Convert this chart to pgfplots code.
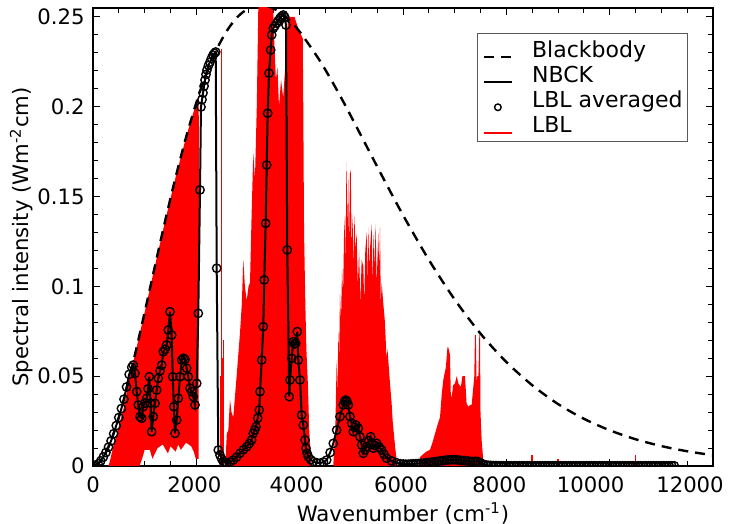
\documentclass[border=0pt]{standalone}
\usepackage{fontspec}
\setmainfont{DejaVu Sans}
\usepackage{pgfplots}
\pgfplotsset{compat=1.18}
\begin{document}
\fontsize{10.6}{12.5}\selectfont
\begin{tikzpicture}
\begin{axis}[
  scale only axis, width=310pt, height=229pt,
  xmin=0, xmax=12000, ymin=0, ymax=0.255,
  scaled x ticks=false, scaled y ticks=false,
  xtick={0,2000,4000,6000,8000,10000,12000},
  xticklabels={0,{\kern-1pt 2000\kern1pt},{\kern-1.5pt 4000\kern1.5pt},{\kern-1pt 6000\kern1pt},{\kern-3.5pt 8000\kern3.5pt},{\kern-9.5pt 10000\kern9.5pt},{\kern-11.5pt 12000\kern11.5pt}},
  ytick={0,0.05,0.1,0.15,0.2,0.25},
  yticklabels={0,0.05,0.1,0.15,0.2,0.25},
  minor x tick num=3, minor y tick num=4,
  tick align=inside, xtick pos=both, ytick pos=both,
  major tick length=3.5pt, minor tick length=2.5pt,
  every tick/.style={black, line width=0.5pt},
  axis line style={line width=0.8pt},
  xticklabel style={yshift=-1.5pt},
  yticklabel style={xshift=-0.5pt},
  clip marker paths=true,
  xlabel={Wavenumber (cm\textsuperscript{-1})},
  ylabel={Spectral intensity (Wm\textsuperscript{-2}cm)},
  xlabel style={at={(axis description cs:0.5,0)}, anchor=north, yshift=-14.7pt},
  ylabel style={at={(axis description cs:-0.0845,0.5)}, anchor=south},
  legend style={at={(0.96,0.945)}, anchor=north east, draw=black!65, line width=0.5pt,
    inner xsep=2.5pt, inner ysep=3.1pt, row sep=2.3pt,
    nodes={inner sep=0pt, text height=8.7pt, text depth=1.5pt, anchor=base west},
    /tikz/every odd column/.append style={column sep=9.5pt},
    font=\fontsize{11}{13}\selectfont},
  legend cell align=left,
  legend image code/.code={\draw[mark repeat=2,mark phase=2,#1] plot coordinates {(0pt,0pt)(7pt,0pt)(14pt,0pt)};},
]
% ---------------- LBL (red) ----------------
\addplot[fill=red, draw=none, forget plot] coordinates {
(300,0) (330,0.003) (400,0.012) (500,0.022) (600,0.033) (700,0.048) (780,0.058) (800,0.0605)
(1000,0.0856) (1200,0.1115) (1400,0.1369) (1600,0.1609) (1800,0.1829) (2000,0.2023) (2040,0.206)
(2050,0.19) (2045,0.004) (1990,0.004) (1950,0.008) (1900,0.011) (1800,0.013) (1700,0.009)
(1650,0.012) (1600,0.008) (1500,0.011) (1450,0.007) (1350,0.012) (1250,0.010) (1150,0.004)
(1100,0.009) (1000,0.009) (950,0.004) (900,0) (330,0)
} \closedcycle;
\addplot[fill=red, draw=none, forget plot] coordinates {
(2560,0) (2590,0.018) (2620,0.020) (2651,0.037) (2680,0.030) (2715,0.027) (2780,0.050)
(2845,0.074) (2880,0.090) (2909,0.115) (2940,0.100) (2975,0.092) (3010,0.100) (3039,0.102)
(3070,0.140) (3102,0.174) (3135,0.160) (3170,0.200) (3199,0.254) (3232,0.262) (3480,0.262)
(3510,0.235) (3540,0.215) (3570,0.222) (3600,0.200) (3640,0.215) (3680,0.205) (3720,0.222)
(3750,0.240) (3780,0.250) (3900,0.250) (3980,0.243) (4060,0.238) (4070,0.200) (4085,0.130)
(4110,0.090) (4130,0.065) (4160,0.045) (4185,0.020) (4210,0.008) (4230,0)
} \closedcycle;
\addplot[fill=red, draw=none, forget plot] coordinates {
(4650,0) (4690,0.020) (4716,0.059) (4730,0.040) (4750,0.075) (4765,0.060) (4780,0.096)
(4800,0.080) (4820,0.110) (4840,0.095) (4860,0.130) (4877,0.139) (4890,0.110) (4900,0.155)
(4910,0.169) (4920,0.130) (4940,0.160) (4955,0.120) (4975,0.165) (4990,0.163) (5006,0.120)
(5025,0.140) (5040,0.110) (5060,0.140) (5080,0.120) (5103,0.130) (5125,0.100) (5150,0.120)
(5175,0.090) (5200,0.115) (5232,0.111) (5250,0.090) (5270,0.120) (5300,0.130) (5315,0.100)
(5329,0.133) (5345,0.110) (5360,0.120) (5393,0.135) (5410,0.100) (5430,0.130) (5450,0.110)
(5470,0.135) (5490,0.100) (5520,0.130) (5540,0.110) (5555,0.133) (5570,0.090) (5587,0.102)
(5620,0.090) (5651,0.080) (5680,0.060) (5700,0.065) (5748,0.046) (5780,0.035) (5800,0.025)
(5850,0.010) (5878,0.003) (5900,0)
} \closedcycle;
\addplot[fill=red, draw=none, forget plot] coordinates {
(6300,0) (6329,0.005) (6450,0.008) (6522,0.009) (6580,0.014) (6619,0.018) (6680,0.024)
(6716,0.027) (6750,0.040) (6780,0.048) (6830,0.055) (6860,0.066) (6877,0.066) (6909,0.062)
(6925,0.040) (6942,0.038) (6970,0.045) (7006,0.046) (7040,0.050) (7071,0.046) (7120,0.044)
(7150,0.050) (7200,0.050) (7230,0.035) (7264,0.033) (7300,0.034) (7329,0.034) (7380,0.050)
(7393,0.073) (7410,0.073) (7425,0.045) (7438,0.050) (7460,0.050) (7477,0.073) (7490,0.073)
(7500,0.030) (7522,0.0145) (7554,0.003) (7570,0)
} \closedcycle;
\addplot[red, ycomb, line width=0.75pt, forget plot] coordinates {
(2470,0.050) (2490,0.232) (2505,0.060) (2530,0.070)
(8250,0.003) (8500,0.006) (9000,0.004) (10500,0.006)
};
% ---------------- Blackbody ----------------
\addplot[black, line width=1.2pt, dash pattern=on 5pt off 3.5pt, smooth, forget plot] table {
0 0
100 0.00131
200 0.0050
300 0.01075
400 0.01826
500 0.02723
600 0.0374
800 0.0605
1000 0.0856
1200 0.1115
1400 0.1369
1600 0.1609
1800 0.1829
2000 0.2023
2200 0.2188
2400 0.2323
2600 0.2427
2800 0.2501
3000 0.2546
3200 0.2564
3400 0.2558
3600 0.2530
3800 0.2482
4000 0.2418
4400 0.2252
4800 0.2052
5200 0.1833
5600 0.1612
6000 0.1397
6500 0.1148
7000 0.0927
7500 0.0737
8000 0.0579
8500 0.0450
9000 0.0345
9500 0.0263
10000 0.0199
10500 0.0149
11000 0.0111
11500 0.0082
12000 0.0060
};
% ---------------- NBCK + LBL averaged ----------------
\addplot[black, line width=1pt, mark=o, mark size=2.1pt, mark options={line width=0.7pt, solid}, forget plot] coordinates {
(0,0) (50,0.0003) (100,0.0012) (150,0.0028) (200,0.0050) (250,0.0075) (300,0.0105) (350,0.0140)
(400,0.0180) (450,0.0225) (500,0.0270) (550,0.0320) (600,0.0372) (650,0.0440) (700,0.0510)
(750,0.0550) (780,0.0562) (813,0.0516) (846,0.0414) (877,0.0340) (910,0.0275) (943,0.0266)
(973,0.0330) (1006,0.0350) (1039,0.0377) (1065,0.0430) (1090,0.0497) (1113,0.0350) (1136,0.0191)
(1167,0.0275) (1200,0.0349) (1233,0.0423) (1264,0.0488) (1297,0.0530) (1330,0.0562) (1361,0.0636)
(1394,0.0650) (1426,0.0674) (1457,0.0757) (1490,0.0859) (1523,0.0729) (1543,0.0497) (1565,0.0330)
(1587,0.0182) (1620,0.0256) (1651,0.0377) (1684,0.0497) (1717,0.0590) (1750,0.0600) (1781,0.0594)
(1813,0.0544) (1844,0.0497) (1877,0.0433) (1910,0.0414) (1941,0.0386) (1974,0.0340) (2007,0.0460)
(2038,0.0850) (2071,0.1537) (2090,0.1999) (2110,0.2040) (2129,0.2077) (2150,0.2115) (2168,0.2149)
(2187,0.2180) (2206,0.2205) (2235,0.2230) (2264,0.2249) (2293,0.2270) (2322,0.2288) (2350,0.2298)
(2375,0.2305) (2394,0.1101) (2425,0.0089) (2458,0.0061) (2490,0.0040) (2522,0.0024) (2555,0.0018)
(2588,0.0015) (2650,0.0022) (2715,0.0033) (2780,0.0050) (2845,0.0071) (2910,0.0090) (2975,0.0107)
(3025,0.0125) (3071,0.0145) (3102,0.0182) (3130,0.0200) (3155,0.0219) (3188,0.0266) (3218,0.0312)
(3232,0.0414) (3265,0.0590) (3296,0.0776) (3315,0.1036) (3342,0.1351) (3362,0.1676) (3381,0.1964)
(3406,0.2187) (3439,0.2316) (3459,0.2400) (3490,0.2437) (3520,0.2450) (3555,0.2465) (3585,0.2480)
(3619,0.2493) (3650,0.2503) (3683,0.2511) (3710,0.2500) (3735,0.2455) (3760,0.1203) (3799,0.0386)
(3813,0.0479) (3846,0.0600) (3877,0.0692) (3900,0.0680) (3923,0.0683) (3954,0.0748) (3973,0.0590)
(4006,0.0479) (4039,0.0284) (4070,0.0228) (4103,0.0145) (4122,0.0099) (4145,0.0070) (4167,0.0052)
(4215,0.0035) (4264,0.0024) (4330,0.0018) (4393,0.0015) (4460,0.0022) (4523,0.0033) (4590,0.0075)
(4651,0.0126) (4716,0.0200) (4780,0.0275) (4844,0.0340) (4870,0.0360) (4891,0.0367) (4915,0.0360)
(4941,0.0340) (4974,0.0275) (5007,0.0238) (5038,0.0191) (5065,0.0215) (5090,0.0228) (5135,0.0210)
(5167,0.0163) (5200,0.0117) (5231,0.0071) (5265,0.0090) (5297,0.0107) (5335,0.0140) (5374,0.0163)
(5400,0.0120) (5425,0.0099) (5460,0.0115) (5491,0.0126) (5540,0.0105) (5587,0.0089) (5635,0.0065)
(5684,0.0043) (5780,0.0028) (5878,0.0018) (5950,0.0012) (6000,0.0010) (6050,0.0010) (6100,0.0010)
(6150,0.0011) (6200,0.0012) (6250,0.0013) (6300,0.0014) (6350,0.0015) (6400,0.0016) (6450,0.0018)
(6500,0.0019) (6550,0.0021) (6600,0.0023) (6650,0.0025) (6700,0.0027) (6750,0.0029) (6800,0.0031)
(6850,0.0033) (6900,0.0034) (6950,0.0035) (7000,0.0035) (7050,0.0034) (7100,0.0032) (7150,0.0030)
(7200,0.0030) (7250,0.0028) (7300,0.0026) (7350,0.0025) (7400,0.0026) (7450,0.0025) (7500,0.0018)
(7550,0.0010) (7600,0.0006) (7650,0.0004) (7700,0.0003) (7750,0.0002) (7800,0.0002) (7850,0.0001)
(7900,0.0001) (7950,0.0001) (8000,0.0001) (8050,0.0001) (8100,0.0001) (8150,0.0001) (8200,0.0001)
(8250,0.0001) (8300,0.0001) (8350,0.0001) (8400,0.0001) (8450,0.0001) (8500,0.0001) (8550,0.0001)
(8600,0.0001) (8650,0.0001) (8700,0.0001) (8750,0.0001) (8800,0.0001) (8850,0.0001) (8900,0.0001)
(8950,0.0001) (9000,0.0001) (9050,0.0001) (9100,0.0001) (9150,0.0001) (9200,0.0001) (9250,0.0001)
(9300,0.0001) (9350,0.0001) (9400,0.0001) (9450,0.0001) (9500,0.0001) (9550,0.0001) (9600,0.0001)
(9650,0.0001) (9700,0.0001) (9750,0.0001) (9800,0.0001) (9850,0.0001) (9900,0.0001) (9950,0.0001)
(10000,0.0001) (10050,0.0001) (10100,0.0001) (10150,0.0001) (10200,0.0001) (10250,0.0001)
(10300,0.0001) (10350,0.0001) (10400,0.0001) (10450,0.0001) (10500,0.0001) (10550,0.0001)
(10600,0.0001) (10650,0.0001) (10700,0.0001) (10750,0.0001) (10800,0.0001) (10850,0.0001)
(10900,0.0001) (10950,0.0001) (11000,0.0001) (11050,0.0001) (11100,0.0001) (11150,0.0001)
(11200,0.0001) (11250,0.0001)
};
% ---------------- legend ----------------
\addlegendimage{black, line width=1.2pt, dash pattern=on 5pt off 3.5pt}
\addlegendentry{Blackbody}
\addlegendimage{black, line width=1pt}
\addlegendentry{NBCK}
\addlegendimage{only marks, mark=o, mark size=1.65pt, mark options={line width=0.7pt}}
\addlegendentry{LBL averaged}
\addlegendimage{red, line width=1pt}
\addlegendentry{LBL}
\coordinate (SW) at (rel axis cs:0,0);
\coordinate (NE) at (rel axis cs:1,1);
\end{axis}
\pgfresetboundingbox
\path ([shift={(-46.5pt,-29pt)}]SW) rectangle ([shift={(13pt,4pt)}]NE);
\end{tikzpicture}
\end{document}
